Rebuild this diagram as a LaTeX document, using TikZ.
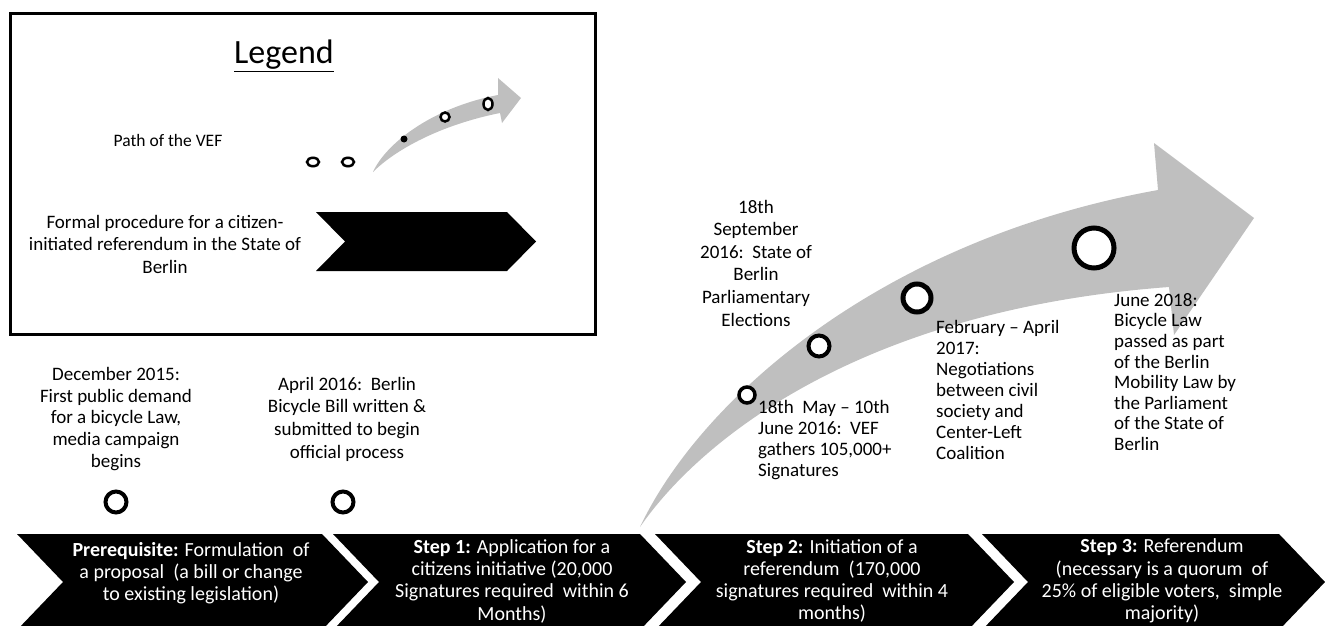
\documentclass[tikz,border=0pt]{standalone}
\usepackage{fontspec}
\setmainfont{Carlito}
\definecolor{bandgray}{RGB}{191,191,191}
\newcommand\bodyfont{\fontsize{19}{21.8}\selectfont}
\tikzset{
  chev/.style={fill=black},
  band/.style={fill=bandgray},
  lbl/.style={inner sep=0pt, font=\bodyfont, align=center},
  lbll/.style={inner sep=0pt, font=\bodyfont, align=left, anchor=west},
  chevtext/.style={inner sep=0pt, font=\fontsize{20}{22.3}\selectfont, align=center, text=white},
  ring/.style={draw=black, fill=white, circle, inner sep=0pt},
  oval/.style={draw=black, fill=white, ellipse, inner sep=0pt},
}
\usetikzlibrary{shapes.geometric}
\begin{document}
\begin{tikzpicture}[x=1pt,y=-1pt]
\useasboundingbox (0,0) rectangle (1325,626);
\clip (0,0) rectangle (1325,626);

% ---------- legend ----------
\draw[line width=3pt] (10,14) rectangle (595,334);
\node[inner sep=0pt, font=\fontsize{34}{40}\selectfont] (legtitle) at (284,56) {\underline{Legend}};
\node[lbl, font=\fontsize{17.5}{21}\selectfont] (pathlbl) at (168,140) {Path of the VEF};
\node[oval, minimum width=12pt, minimum height=8.5pt, line width=2.5pt] (o1) at (313,162) {};
\node[oval, minimum width=12pt, minimum height=8.5pt, line width=2.5pt] (o2) at (348,162) {};
\fill[band] (373,172) .. controls (385,145) and (430,108) .. (498,95) -- (498,78) -- (521,98) -- (502,123) -- (500,113) .. controls (440,125) and (395,150) .. (373,172) -- cycle;
\node[circle, fill=black, minimum size=7pt, inner sep=0pt] (ld1) at (404,139) {};
\node[ring, minimum size=9pt, line width=2.5pt] (ld2) at (445,117) {};
\node[oval, minimum width=9pt, minimum height=12pt, line width=2.5pt] (ld3) at (488,104) {};
\node[lbl, font=\fontsize{19}{22.5}\selectfont] (formal) at (165,244) {Formal procedure for a citizen-\\initiated referendum in the State of\\Berlin};
\fill[chev] (316,212) -- (507,212) -- (536,241.5) -- (507,271) -- (316,271) -- (345,241.5) -- cycle;

% ---------- big path arrow ----------
\fill[band] (640,527) .. controls (700,400) and (880,240) .. (1158,190) -- (1154,143) -- (1254,218) -- (1174,335) -- (1169,287) .. controls (860,310) and (700,440) .. (640,527) -- cycle;
\node[ring, minimum size=16pt, line width=3.5pt] (ra) at (747,395) {};
\node[ring, minimum size=21pt, line width=4pt] (rb) at (819,346) {};
\node[ring, minimum size=28pt, line width=5pt] (rc) at (917,298) {};
\node[ring, minimum size=40pt, line width=5pt] (rd) at (1094,248) {};

\node[lbl, font=\fontsize{19}{22.6}\selectfont] (sep) at (756,263) {18th\\September\\2016:\ \ State of\\Berlin\\Parliamentary\\Elections};
\node[lbll, font=\fontsize{19}{21.3}\selectfont] (may) at (758,440) {18th\ \ May -- 10th\\June 2016:\ \ VEF\\gathers 105,000+\\Signatures};
\node[lbll, font=\fontsize{19}{21}\selectfont] (feb) at (936,390) {February -- April\\2017:\\Negotiations\\between civil\\society and\\Center-Left\\Coalition};
\node[lbll, font=\fontsize{19}{20.6}\selectfont] (jun) at (1114,372) {June 2018:\\Bicycle Law\\passed as part\\of the Berlin\\Mobility Law by\\the Parliament\\of the State of\\Berlin};

% ---------- early milestones ----------
\node[lbl] (dec) at (116,419) {December 2015:\\First public demand\\for a bicycle Law,\\media campaign\\begins};
\node[lbl, font=\fontsize{19}{22.7}\selectfont] (apr) at (347,419) {April 2016:\ \ Berlin\\Bicycle Bill written \&\\submitted to begin\\official process};
\node[ring, minimum size=21pt, line width=4pt] (r0) at (116,502) {};
\node[ring, minimum size=21pt, line width=4pt] (r1) at (343,502) {};

% ---------- formal procedure chevrons ----------
\fill[chev] (17,534) -- (322,534) -- (368,582) -- (322,630) -- (17,630) -- (63,582) -- cycle;
\fill[chev] (333,534) -- (640,534) -- (686,582) -- (640,630) -- (333,630) -- (379,582) -- cycle;
\fill[chev] (655,534) -- (968,534) -- (1014,582) -- (968,630) -- (655,630) -- (701,582) -- cycle;
\fill[chev] (982,534) -- (1279,534) -- (1325,582) -- (1279,630) -- (982,630) -- (1028,582) -- cycle;

\node[chevtext] (c1) at (191,573) {\textbf{Prerequisite:} Formulation\ \ of\\a proposal\ \ (a bill or change\\to existing legislation)};
\node[chevtext] (c2) at (512,581) {\textbf{Step 1:} Application for a\\citizens initiative (20,000\\Signatures required\ \ within 6\\Months)};
\node[chevtext] (c3) at (832,581) {\textbf{Step 2:} Initiation of a\\referendum\ \ (170,000\\signatures required\ \ within 4\\months)};
\node[chevtext] (c4) at (1162,581) {\textbf{Step 3:} Referendum\\(necessary is a quorum\ \ of\\25\% of eligible voters,\ \ simple\\majority)};
\end{tikzpicture}
\end{document}
